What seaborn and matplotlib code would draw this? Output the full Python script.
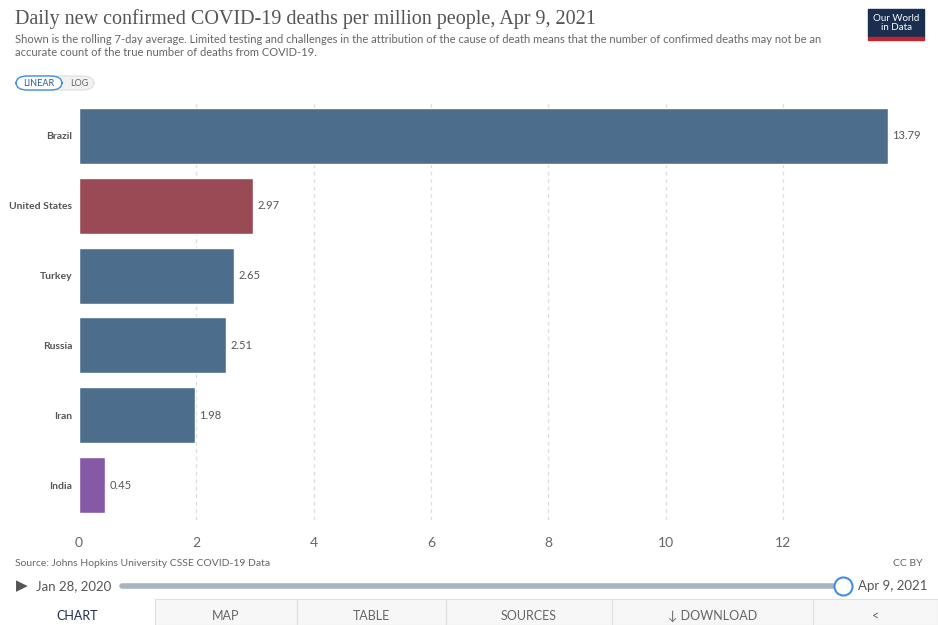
import matplotlib
matplotlib.use("Agg")
import matplotlib.pyplot as plt
import seaborn as sns
import pandas as pd
from matplotlib.patches import FancyBboxPatch, Rectangle

countries = ["Brazil", "United States", "Turkey", "Russia", "Iran", "India"]
deaths = [13.79, 2.97, 2.65, 2.51, 1.98, 0.45]
bar_colors = ["#4c6e8c", "#9a4a55", "#4c6e8c", "#4c6e8c", "#4c6e8c", "#8559a5"]
xticks = [0, 2, 4, 6, 8, 10, 12]

df = pd.DataFrame({"country": countries, "deaths": deaths})

sns.set_style("white")
plt.rcParams['font.family'] = ['Lato', 'DejaVu Sans']

W, H = 938, 625
fig = plt.figure(figsize=(W / 100, H / 100), dpi=100)

# axes: x=0 at px 79, 13.79 at px 888; rows from px 101 to 520
ax = fig.add_axes([79 / W, 1 - 520 / H, (888 - 79) / W, (520 - 101) / H])
sns.barplot(data=df, x="deaths", y="country", hue="country", palette=bar_colors,
            legend=False, width=0.8, saturation=1, ax=ax)
ax.set_xlim(0, 13.79)
ax.set_ylim(5.5, -0.5)
ax.set_xticks(xticks)
ax.set_xlabel("")
ax.set_ylabel("")
for x in xticks[1:]:
    ax.axvline(x, color="#dddddd", ls=(0, (3, 3)), lw=0.9, zorder=0)
sns.despine(ax=ax, left=True, bottom=True)
ax.tick_params(axis="x", length=0, labelsize=10, colors="#666666", pad=12)
ax.tick_params(axis="y", length=0, labelsize=7.5, pad=5)
for lbl in ax.get_yticklabels():
    lbl.set_fontweight("bold")
    lbl.set_color("#555555")
for i, v in enumerate(deaths):
    ax.text(v + 0.07, i, f"{v:.2f}", va="center", ha="left", fontsize=8, color="#555555")

# header
fig.text(15 / W, 1 - 19 / H, "Daily new confirmed COVID-19 deaths per million people, Apr 9, 2021",
         fontsize=14.5, color="#555555", family=["Liberation Serif", "DejaVu Serif"], va="center")
fig.text(15 / W, 1 - 46 / H,
         "Shown is the rolling 7-day average. Limited testing and challenges in the attribution of the cause of death means that the number of confirmed deaths may not be an\naccurate count of the true number of deaths from COVID-19.",
         fontsize=8, color="#666666", va="center", linespacing=1.15)

# logo
fig.patches.append(Rectangle((868 / W, 1 - 37 / H), 56 / W, 28 / H, transform=fig.transFigure,
                             color="#1a2e4f"))
fig.patches.append(Rectangle((868 / W, 1 - 40 / H), 56 / W, 3 / H, transform=fig.transFigure,
                             color="#c0262d"))
fig.text(896 / W, 1 - 23 / H, "Our World\nin Data", color="white", fontsize=7,
         ha="center", va="center", linespacing=0.95, family=["Liberation Sans Narrow", "Lato"])

# LINEAR / LOG toggle
fig.patches.append(FancyBboxPatch((16 / W, 1 - 90 / H), 78 / W, 14 / H, transform=fig.transFigure,
                                  boxstyle="round,pad=0,rounding_size=0.012", fc="#f2f2f2",
                                  ec="#dddddd", lw=0.8))
fig.patches.append(FancyBboxPatch((16 / W, 1 - 90 / H), 46 / W, 14 / H, transform=fig.transFigure,
                                  boxstyle="round,pad=0,rounding_size=0.012", fc="white",
                                  ec="#3f8ee8", lw=1))
fig.text(39 / W, 1 - 83 / H, "LINEAR", fontsize=6.5, color="#2a5c9a", ha="center", va="center")
fig.text(79 / W, 1 - 83 / H, "LOG", fontsize=6.5, color="#666666", ha="center", va="center")

# footer
fig.text(15 / W, 1 - 564 / H, "Source: Johns Hopkins University CSSE COVID-19 Data",
         fontsize=7.5, color="#666666", va="center")
fig.text(922 / W, 1 - 564 / H, "CC BY", fontsize=7.5, color="#666666", va="center", ha="right")

# timeline
fig.text(16 / W, 1 - 586 / H, "\u25B6", fontsize=11, color="#555555", va="center",
         family=["DejaVu Sans"])
fig.text(36 / W, 1 - 586 / H, "Jan 28, 2020", fontsize=9.5, color="#555555", va="center")
fig.lines.append(plt.Line2D([122 / W, 836 / W], [1 - 586 / H, 1 - 586 / H], transform=fig.transFigure,
                            color="#a8b4c0", lw=4, solid_capstyle="round"))
fig.lines.append(plt.Line2D([843 / W], [1 - 586 / H], transform=fig.transFigure, marker="o",
                            ms=13, mfc="white", mec="#3f8ee8", mew=1.5))
fig.text(858 / W, 1 - 586 / H, "Apr 9, 2021", fontsize=9.5, color="#555555", va="center")

# tabs
tab_edges = [0, 155, 297, 446, 612, 813, 938]
tab_names = ["CHART", "MAP", "TABLE", "SOURCES", "\u2193 DOWNLOAD", "<"]
for i, name in enumerate(tab_names):
    x0, x1 = tab_edges[i], tab_edges[i + 1]
    if i > 0:
        fig.patches.append(Rectangle((x0 / W, 0), (x1 - x0) / W, 26 / H, transform=fig.transFigure,
                                     fc="#f7f7f7", ec="#e0e0e0", lw=0.8))
    fig.text((x0 + x1) / 2 / W, 1 - 616 / H, name, fontsize=9, ha="center", va="center",
             color="#1a2e4f" if i == 0 else "#666666", family=["Lato", "DejaVu Sans"])

fig.savefig("out.png", dpi=100)
